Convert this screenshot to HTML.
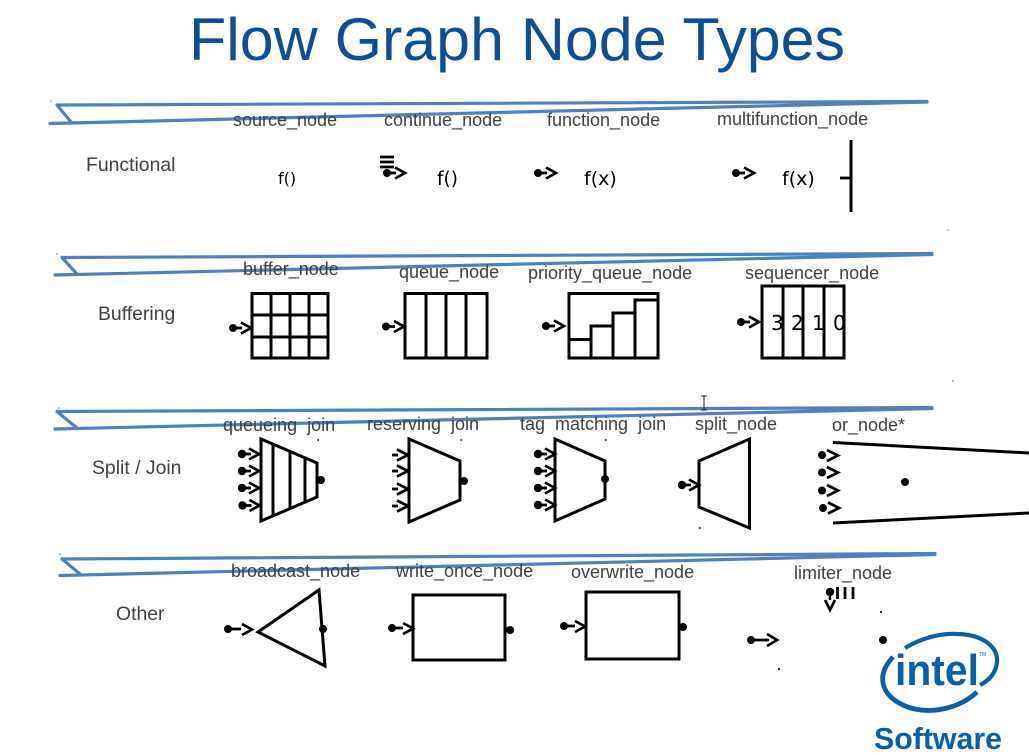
<!DOCTYPE html>
<html><head><meta charset="utf-8"><style>
html,body{margin:0;padding:0;background:#fff;width:1029px;height:755px;overflow:hidden}
svg{display:block}
text{font-family:"Liberation Sans",sans-serif;white-space:pre}
.l{font-size:18px;fill:#404040}
.g{font-size:19.400px;fill:#404040}
.f{font-family:"DejaVu Sans",sans-serif;fill:#000}
.b{fill:none;stroke:#4f81bd;stroke-width:3.200;stroke-linecap:round;stroke-linejoin:round}
.s{fill:none;stroke:#000;stroke-width:3;stroke-linejoin:miter}
.c{fill:none;stroke:#000;stroke-width:2.700}
</style></head><body>
<svg width="1029" height="755" viewBox="0 0 1029 755" xmlns="http://www.w3.org/2000/svg">
<defs>
<g id="p"><circle cx="0" cy="0" r="4" fill="#000"/><path d="M0 0H9" stroke="#000" stroke-width="2.800" fill="none"/><path d="M8 -5.500L18 0L8 5.500" class="c"/></g>
<g id="q"><circle cx="0" cy="0" r="4.200" fill="#000"/><path d="M0 0H9" stroke="#000" stroke-width="2.800" fill="none"/><path d="M7 -5.500L17 0L7 5.500" class="c"/></g>
<g id="r"><path d="M-5 0H1" stroke="#000" stroke-width="2.800" fill="none"/><path d="M0 -5.500L11 0L0 5.500" class="c"/></g>
</defs>
<text x="189" y="60" font-size="60.500" fill="#0b4f94" textLength="656" lengthAdjust="spacingAndGlyphs">Flow Graph Node Types</text>

<path class="b" d="M57 105L927 101.500M57 105L71 122M50 123.500L927 102"/>
<path class="b" d="M62 257.500L932 253.500M62 257.500L77 274M55 275L932 254.500"/>
<path class="b" d="M57 411.500L932 407.500M57 411.500L77 428M55 429L932 408.500"/>
<path class="b" d="M62 559L935 553.500M62 559L80 574M60 575.500L935 554.500"/>

<text class="l" x="233" y="126">source_node</text>
<text class="l" x="384" y="126">continue_node</text>
<text class="l" x="547" y="126">function_node</text>
<text class="l" x="717" y="125">multifunction_node</text>
<text class="g" x="86" y="171">Functional</text>
<text class="l" x="243" y="275">buffer_node</text>
<text class="l" x="399" y="278">queue_node</text>
<text class="l" x="528" y="279">priority_queue_node</text>
<text class="l" x="745" y="279">sequencer_node</text>
<text class="g" x="98" y="320">Buffering</text>
<text class="l" x="223" y="431">queueing  join</text>
<text class="l" x="367" y="430">reserving  join</text>
<text class="l" x="520" y="430">tag  matching  join</text>
<text class="l" x="695" y="430">split_node</text>
<text class="l" x="832" y="431">or_node*</text>
<text class="g" x="92" y="474">Split / Join</text>
<text class="l" x="231" y="577">broadcast_node</text>
<text class="l" x="396" y="577">write_once_node</text>
<text class="l" x="571" y="578">overwrite_node</text>
<text class="l" x="794" y="579">limiter_node</text>
<text class="g" x="116" y="620">Other</text>

<text class="f" x="278" y="184" font-size="16">f()</text>
<text class="f" x="437" y="185" font-size="18.500">f()</text>
<text class="f" x="584" y="185" font-size="19">f(x)</text>
<text class="f" x="782" y="185" font-size="19">f(x)</text>

<path d="M380 157H394M380 162H394M380 167H394" stroke="#000" stroke-width="2.800"/>
<use href="#p" x="387" y="173"/>
<use href="#p" x="538" y="173"/>
<use href="#p" x="736" y="173"/>
<path d="M851 140V212" stroke="#000" stroke-width="3"/>
<path d="M840 178H851" stroke="#000" stroke-width="2.800"/>

<!-- buffer -->
<rect class="s" x="252" y="293.500" width="76" height="64.500"/>
<path class="s" d="M271 293.500V358M290 293.500V358M309 293.500V358M252 315H328M252 337H328"/>
<use href="#p" x="233" y="328"/>
<!-- queue -->
<rect class="s" x="405" y="293.500" width="82" height="64.500"/>
<path class="s" d="M426 293.500V358M446 293.500V358M466 293.500V358"/>
<use href="#p" x="386" y="326.500"/>
<!-- priority -->
<rect class="s" x="569" y="293.500" width="89" height="64.500"/>
<path class="s" d="M569 339.500H591V326H613V313H635V300H658M591 326V358M613 313V358M635 300V358"/>
<use href="#p" x="546" y="326"/>
<!-- sequencer -->
<rect class="s" x="762" y="286" width="82" height="72"/>
<path class="s" d="M783 286V358M803 286V358M824 286V358"/>
<use href="#p" x="741" y="322"/>
<text class="f" x="771" y="330" font-size="20">3</text>
<text class="f" x="791" y="330" font-size="20">2</text>
<text class="f" x="812" y="330" font-size="20">1</text>
<text class="f" x="833" y="330" font-size="20">0</text>

<!-- queueing join -->
<polygon class="s" points="261,439 317,463 317,497 261,521"/>
<path class="s" d="M273 444V515M290 451.500V508M305 458V501"/>
<circle cx="321" cy="480" r="4" fill="#000"/>
<use href="#q" x="242" y="454"/><use href="#q" x="242" y="471"/><use href="#q" x="242" y="488"/><use href="#q" x="242.500" y="505.500"/>
<!-- reserving join -->
<polygon class="s" points="409,439 460,461 460,500 409,522"/>
<circle cx="464" cy="481" r="4" fill="#000"/>
<use href="#r" x="397" y="455"/><use href="#r" x="397" y="471"/><use href="#r" x="397" y="489"/><use href="#r" x="397" y="506"/>
<!-- tag join -->
<polygon class="s" points="555,439 605,461 605,499 555,521"/>
<circle cx="605" cy="479" r="4" fill="#000"/>
<use href="#q" x="538" y="454"/><use href="#q" x="538" y="471"/><use href="#q" x="538" y="488"/><use href="#q" x="538" y="505"/>
<!-- split -->
<polygon class="s" points="699,461 749.500,439 749.500,528 699,507"/>
<use href="#q" x="682" y="485"/>
<!-- or -->
<path class="s" d="M833 442.500L1029 453M833 523L1029 513"/>
<circle cx="905" cy="482" r="4" fill="#000"/>
<path class="c" d="M827 450L838 455.500L827 461M827 467L838 472.500L827 478M827 485L838 490.500L827 496M828 502.500L839 508L828 513.500"/>
<circle cx="822" cy="455" r="4" fill="#000"/><circle cx="822" cy="472.500" r="4" fill="#000"/><circle cx="822" cy="490.500" r="4" fill="#000"/><circle cx="823" cy="508" r="4" fill="#000"/>
<!-- broadcast -->
<polygon class="s" points="258,632 319,590 325,666"/>
<circle cx="323" cy="629" r="4" fill="#000"/>
<circle cx="228" cy="629" r="4" fill="#000"/><path d="M228 629H241" stroke="#000" stroke-width="2.800"/><path d="M242 624L252 629.500L242 635" class="c"/>
<!-- write once -->
<rect class="s" x="413" y="595" width="92" height="65"/>
<circle cx="510" cy="630" r="4" fill="#000"/>
<circle cx="392" cy="628" r="4" fill="#000"/><path d="M392 628H403" stroke="#000" stroke-width="2.800"/><path d="M403 623L413 628.500L403 634" class="c"/>
<!-- overwrite -->
<rect class="s" x="586" y="592" width="93" height="67"/>
<circle cx="683" cy="627" r="4" fill="#000"/>
<circle cx="564" cy="626" r="4" fill="#000"/><path d="M564 626H575" stroke="#000" stroke-width="2.800"/><path d="M575 621L585 626.500L575 632" class="c"/>
<!-- limiter -->
<circle cx="830" cy="592" r="4.200" fill="#000"/>
<path d="M830 592V600" stroke="#000" stroke-width="2.400"/>
<path d="M825 600L830 610L835 600" class="c"/>
<path d="M837.500 587V599M845 587V599M853 587V599" stroke="#000" stroke-width="2.800"/>
<circle cx="751" cy="640" r="4" fill="#000"/><path d="M751 640H769" stroke="#000" stroke-width="2.800"/><path d="M767 634L777 640L767 646" class="c"/>
<circle cx="883" cy="640" r="4" fill="#000"/>

<!-- specks -->
<g fill="#333"><rect x="880" y="611" width="2" height="2"/><rect x="778" y="668" width="2" height="2"/><rect x="699" y="527" width="1.500" height="2"/><rect x="317.500" y="439" width="1.500" height="2"/><rect x="460.500" y="439" width="1.500" height="2"/><rect x="605" y="439" width="1.500" height="2"/></g>
<g fill="#a9c0de"><rect x="947" y="229" width="2" height="2"/><rect x="952" y="380" width="2" height="2"/><rect x="50" y="100" width="2" height="2"/><rect x="56" y="253" width="2" height="2"/><rect x="58" y="407" width="2" height="2"/><rect x="59" y="553" width="2" height="2"/></g>
<!-- cursor -->
<path d="M701 396H707M704 396V410M701 410H707" stroke="#222" stroke-width="1" fill="none"/>

<!-- logo -->
<path d="M905 648C925 636 945 633 958 634C985 635 998 648 997 662C996 672 990 680 980 685" fill="none" stroke="#0860a8" stroke-width="4.200"/>
<path d="M893 657C876 675 880 695 905 706C930 716 960 708 977 692" fill="none" stroke="#0860a8" stroke-width="4.800"/>
<text x="895" y="685" font-size="44" font-weight="700" fill="#0860a8" textLength="84" lengthAdjust="spacingAndGlyphs">intel</text>
<text x="979" y="656" font-size="5" fill="#0860a8">TM</text>
<text x="874" y="749" font-size="30.300" font-weight="700" fill="#0860a8" textLength="128" lengthAdjust="spacingAndGlyphs">Software</text>
</svg>
</body></html>
